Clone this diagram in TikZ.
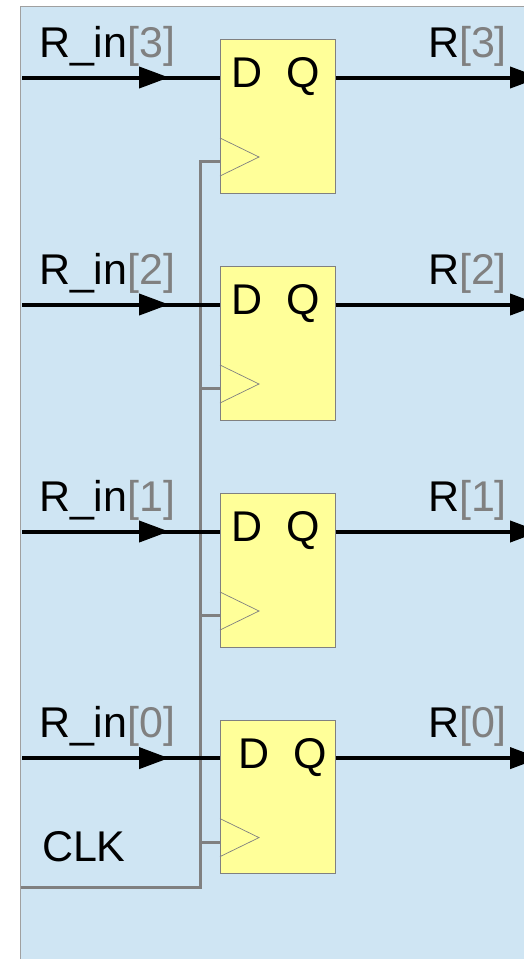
\documentclass[tikz,border=0pt]{standalone}
\usepackage{fontspec}
\setmainfont{Liberation Sans}
\usetikzlibrary{arrows.meta}
\definecolor{bgblue}{HTML}{CFE5F3}
\definecolor{ffyellow}{HTML}{FFFF99}
\definecolor{wiregray}{HTML}{808080}
\definecolor{edgegray}{HTML}{A0A0A0}
\tikzset{
  lab/.style={anchor=base west,inner sep=0pt,outer sep=0pt,font=\fontsize{43}{43}\selectfont,text=black},
  ffbox/.style={draw=wiregray,line width=0.8pt,fill=ffyellow,minimum width=115pt,minimum height=153.8pt,inner sep=0pt,outer sep=0pt,anchor=north west},
  clkmark/.style={draw=wiregray,line width=0.7pt},
  datawire/.style={draw=black,line width=4pt},
  clkwire/.style={draw=wiregray,line width=3pt,line join=miter},
  tip/.style={-{Triangle[length=30pt,width=21pt,fill=black]}}
}
\newcommand{\gb}[1]{\textcolor{wiregray}{[}\textcolor{wiregray}{#1}\textcolor{wiregray}{]}}
\begin{document}
\begin{tikzpicture}[x=1pt,y=-1pt]
\useasboundingbox (0,0) rectangle (524,959);
\clip (0,0) rectangle (524,959);
\fill[bgblue] (20.5,6.5) rectangle (530,965);
\draw[edgegray,line width=1.2pt] (20.5,965) -- (20.5,6.5) -- (530,6.5);
\coordinate (clkin) at (20.5,887);
\coordinate (clkturn) at (200,887);
\foreach \n/\y/\dx in {3/40/0,2/267/0,1/494/0,0/720.6/7}{
  \node[ffbox] (ff\n) at (220.3,\y-0.6) {};
  \draw[clkmark] (220,\y+98) coordinate (ck\n a) -- (259,\y+117) -- (220,\y+136);
  \node[lab] (d\n) at (231.3+\dx,\y+47.7) {D};
  \node[lab] (q\n) at (286.5+\dx,\y+47.7) {Q};
  \coordinate (in\n) at (22,\y+37.5);
  \coordinate (mid\n) at (169,\y+37.5);
  \coordinate (ffin\n) at (220,\y+37.5);
  \coordinate (ffout\n) at (335.5,\y+37.5);
  \coordinate (tipout\n) at (540,\y+37.5);
  \coordinate (ckin\n) at (220,\y+121.5);
  \coordinate (trunk\n) at (200,\y+121.5);
  \node[lab] (ri\n) at (39,\y+17) {R\_in\gb{\n}};
  \node[lab] (ro\n) at (428,\y+17) {R\gb{\n}};
}
\foreach \n in {3,2,1,0}{
  \draw[clkwire] (trunk\n) -- (ckin\n);
}
\draw[clkwire] (clkin) -- (clkturn) -- (trunk3) -- (ckin3);
\foreach \n in {3,2,1,0}{
  \draw[datawire] (in\n) -- (ffin\n);
  \draw[datawire,tip] (in\n) -- (mid\n);
  \draw[datawire,tip] (ffout\n) -- (tipout\n);
}
\node[lab] (clk) at (42,861) {CLK};
\end{tikzpicture}
\end{document}
